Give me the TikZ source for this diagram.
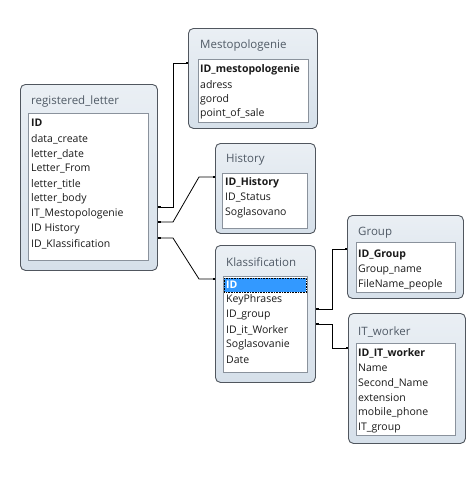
\documentclass[tikz,border=0pt]{standalone}
\usepackage{fontspec}
\setmainfont{Open Sans}
\usetikzlibrary{arrows.meta}
\definecolor{boxtop}{HTML}{EAEFF4}
\definecolor{boxbot}{HTML}{D6E0EA}
\definecolor{boxborder}{HTML}{50565E}
\definecolor{panelborder}{HTML}{8A929C}
\definecolor{titlecol}{HTML}{505A66}
\definecolor{rowcol}{HTML}{1A1A1A}
\definecolor{selblue}{HTML}{3399FF}
\tikzset{
  tbox/.style={draw=boxborder, line width=0.9, rounded corners=5, top color=boxtop, bottom color=boxbot, inner sep=0, anchor=north west},
  panel/.style={draw=panelborder, fill=white, line width=0.7, inner sep=0, anchor=north west},
  ttl/.style={anchor=west, text=titlecol, font=\fontsize{11.5}{13}\selectfont, inner sep=0},
  rowtxt/.style={anchor=west, text=rowcol, font=\fontsize{10.5}{12}\selectfont, inner sep=0},
  keytxt/.style={anchor=west, text=rowcol, font=\fontsize{10.5}{12}\selectfont\bfseries, inner sep=0},
  conn/.style={draw=black, line width=0.8, {Square[length=2.5pt,width=2.5pt]}-{Square[length=2.5pt,width=2.5pt]}}
}
\begin{document}
\begin{tikzpicture}[x=1pt,y=-1pt]
\useasboundingbox[fill=white] (0,0) rectangle (475,482);

% registered_letter
\node[tbox, minimum width=137, minimum height=186] (rl) at (20,84) {};
\node[panel, minimum width=120, minimum height=147] (rlp) at (28,113) {};
\node[ttl] (rlt) at (31,102) {registered\_letter};
\node[keytxt] (rl1) at (31,123) {ID};
\node[rowtxt] (rl2) at (31,139) {data\_create};
\node[rowtxt] (rl3) at (31,154) {letter\_date};
\node[rowtxt] (rl4) at (31,169) {Letter\_From};
\node[rowtxt] (rl5) at (31,184) {letter\_title};
\node[rowtxt] (rl6) at (31,199) {letter\_body};
\node[rowtxt] (rl7) at (31,214) {IT\_Mestopologenie};
\node[rowtxt] (rl8) at (31,229) {ID History};
\node[rowtxt] (rl9) at (31,244) {ID\_Klassification};

% Mestopologenie
\node[tbox, minimum width=129, minimum height=100] (me) at (188,28) {};
\node[panel, minimum width=110, minimum height=63] (mep) at (198,59) {};
\node[ttl] (met) at (200,46) {Mestopologenie};
\node[keytxt] (me1) at (200,70) {ID\_mestopologenie};
\node[rowtxt] (me2) at (200,85) {adress};
\node[rowtxt] (me3) at (200,100) {gorod};
\node[rowtxt] (me4) at (200,114) {point\_of\_sale};

% History
\node[tbox, minimum width=100, minimum height=90] (hi) at (215,143) {};
\node[panel, minimum width=85, minimum height=55] (hip) at (222,173) {};
\node[ttl] (hit) at (226,160) {History};
\node[keytxt] (hi1) at (225,183) {ID\_History};
\node[rowtxt] (hi2) at (225,198) {ID\_Status};
\node[rowtxt] (hi3) at (225,213) {Soglasovano};

% Klassification
\node[tbox, minimum width=100, minimum height=137] (kl) at (215,245) {};
\node[panel, minimum width=84, minimum height=96] (klp) at (223,276) {};
\node[ttl] (klt) at (226,262) {Klassification};
\node[anchor=north west, fill=selblue, draw=black, densely dotted, line width=0.6, minimum width=82, minimum height=14, inner sep=0] (klsel) at (224,278) {};
\node[keytxt, text=white] (kl1) at (226,285) {ID};
\node[rowtxt] (kl2) at (226,300) {KeyPhrases};
\node[rowtxt] (kl3) at (226,315) {ID\_group};
\node[rowtxt] (kl4) at (226,330) {ID\_it\_Worker};
\node[rowtxt] (kl5) at (226,345) {Soglasovanie};
\node[rowtxt] (kl6) at (226,360) {Date};

% Group
\node[tbox, minimum width=116, minimum height=83] (gr) at (347,215) {};
\node[panel, minimum width=99, minimum height=50] (grp) at (356,242) {};
\node[ttl] (grt) at (358,233) {Group};
\node[keytxt] (gr1) at (358,255) {ID\_Group};
\node[rowtxt] (gr2) at (358,270) {Group\_name};
\node[rowtxt] (gr3) at (358,285) {FileName\_people};

% IT_worker
\node[tbox, minimum width=117, minimum height=130] (it) at (348,313) {};
\node[panel, minimum width=99, minimum height=92] (itp) at (356,343) {};
\node[ttl] (itt) at (358,332) {IT\_worker};
\node[keytxt] (it1) at (358,353) {ID\_IT\_worker};
\node[rowtxt] (it2) at (358,368) {Name};
\node[rowtxt] (it3) at (358,383) {Second\_Name};
\node[rowtxt] (it4) at (358,398) {extension};
\node[rowtxt] (it5) at (358,413) {mobile\_phone};
\node[rowtxt] (it6) at (358,428) {IT\_group};

% connector end points on box edges
\coordinate (a1) at (rl.east |- 0,207);
\coordinate (a2) at (rl.east |- 0,222);
\coordinate (a3) at (rl.east |- 0,238);
\coordinate (b1) at (me.west |- 0,63);
\coordinate (b2) at (hi.west |- 0,177);
\coordinate (b3) at (kl.west |- 0,279);
\coordinate (k1) at (kl.east |- 0,309);
\coordinate (k2) at (kl.east |- 0,324);
\coordinate (g1) at (gr.west |- 0,249);
\coordinate (w1) at (it.west |- 0,348);

\draw[conn] (a1) -- (173,207) -- (173,63) -- (b1);
\draw[conn] (a2) -- (173,222) -- (199,177) -- (b2);
\draw[conn] (a3) -- (173,238) -- (199,279) -- (b3);
\draw[conn] (k1) -- (332,309) -- (332,249) -- (g1);
\draw[conn] (k2) -- (332,324) -- (332,348) -- (w1);
\end{tikzpicture}
\end{document}
